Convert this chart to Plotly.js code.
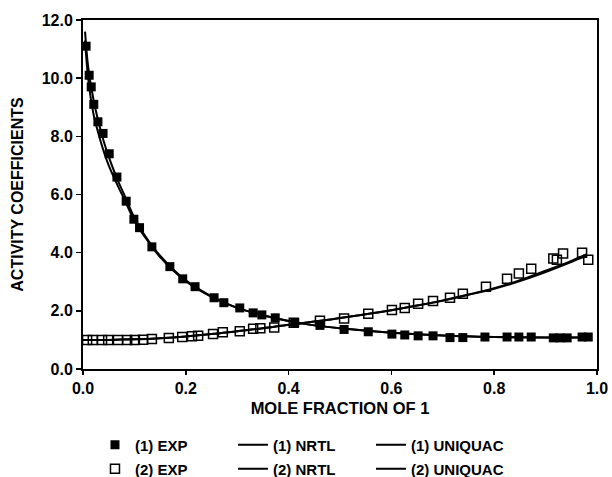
<!DOCTYPE html>
<html>
<head>
<meta charset="utf-8">
<script src="https://cdn.plot.ly/plotly-3.0.1.min.js"></script>
<style>html,body{margin:0;padding:0;background:#fff;}#chart{width:612px;height:477px;}</style>
</head>
<body>
<div id="chart"></div>
<script>
// Experimental data, component 1 (filled squares)
var exp1X = [0.006, 0.012, 0.016, 0.021, 0.029, 0.039, 0.051, 0.066, 0.084, 0.099, 0.110, 0.134, 0.169, 0.194, 0.218, 0.255, 0.274, 0.305, 0.331, 0.348, 0.374, 0.412, 0.461, 0.508, 0.555, 0.601, 0.626, 0.652, 0.681, 0.714, 0.739, 0.782, 0.825, 0.848, 0.872, 0.915, 0.928, 0.942, 0.971, 0.983];
var exp1Y = [11.1, 10.1, 9.7, 9.1, 8.5, 8.1, 7.4, 6.6, 5.77, 5.15, 4.86, 4.2, 3.52, 3.1, 2.83, 2.45, 2.28, 2.1, 1.93, 1.86, 1.76, 1.6, 1.5, 1.36, 1.28, 1.2, 1.17, 1.14, 1.14, 1.08, 1.08, 1.1, 1.1, 1.1, 1.1, 1.07, 1.07, 1.07, 1.1, 1.1];

// Experimental data, component 2 (open squares)
var exp2X = [0.008, 0.019, 0.037, 0.049, 0.068, 0.086, 0.101, 0.117, 0.134, 0.167, 0.193, 0.212, 0.224, 0.253, 0.272, 0.305, 0.331, 0.345, 0.372, 0.41, 0.461, 0.508, 0.555, 0.601, 0.626, 0.652, 0.681, 0.714, 0.739, 0.784, 0.825, 0.848, 0.872, 0.915, 0.922, 0.934, 0.971, 0.983];
var exp2Y = [1.0, 1.0, 1.0, 1.0, 1.0, 1.0, 1.0, 1.01, 1.03, 1.07, 1.1, 1.13, 1.14, 1.2, 1.26, 1.3, 1.38, 1.4, 1.43, 1.59, 1.66, 1.74, 1.9, 2.03, 2.1, 2.24, 2.34, 2.45, 2.59, 2.83, 3.1, 3.28, 3.45, 3.8, 3.76, 3.97, 4.0, 3.76];

// Model curves, component 1
var fit1X = [0.004, 0.01, 0.02, 0.03, 0.04, 0.05, 0.065, 0.08, 0.1, 0.12, 0.15, 0.2, 0.25, 0.3, 0.35, 0.4, 0.45, 0.5, 0.6, 0.7, 0.8, 0.9, 0.98];
var nrtl1Y = [11.6, 10.4, 9.3, 8.5, 7.85, 7.3, 6.6, 6.0, 5.2, 4.6, 3.9, 3.05, 2.5, 2.1, 1.85, 1.65, 1.5, 1.4, 1.25, 1.15, 1.1, 1.08, 1.08];
var uniq1Y = [11.3, 10.0, 8.8, 8.1, 7.5, 7.0, 6.4, 5.85, 5.1, 4.55, 3.85, 3.02, 2.48, 2.1, 1.85, 1.65, 1.5, 1.4, 1.25, 1.15, 1.1, 1.08, 1.08];

// Model curves, component 2
var fit2X = [0.0, 0.05, 0.1, 0.15, 0.2, 0.25, 0.3, 0.35, 0.4, 0.45, 0.5, 0.55, 0.6, 0.65, 0.7, 0.75, 0.8, 0.85, 0.9, 0.95, 0.98];
var nrtl2Y = [1.0, 1.0, 1.02, 1.06, 1.12, 1.2, 1.3, 1.4, 1.52, 1.63, 1.75, 1.88, 2.02, 2.18, 2.36, 2.56, 2.78, 3.05, 3.38, 3.72, 3.95];
var uniq2Y = [1.0, 1.0, 1.02, 1.06, 1.12, 1.2, 1.3, 1.4, 1.52, 1.63, 1.75, 1.88, 2.02, 2.18, 2.35, 2.55, 2.76, 3.02, 3.33, 3.68, 3.9];

var names = ['(1) EXP', '(1) NRTL', '(1) UNIQUAC', '(2) EXP', '(2) NRTL', '(2) UNIQUAC'];

var lineStyle = {color: '#000', width: 2, shape: 'spline'};
var traces = [
  {x: exp1X, y: exp1Y, name: names[0], type: 'scatter', mode: 'markers', legend: 'legend',
   marker: {symbol: 'square', size: 9, color: '#000'}},
  {x: fit1X, y: nrtl1Y, name: names[1], type: 'scatter', mode: 'lines', legend: 'legend', line: lineStyle},
  {x: fit1X, y: uniq1Y, name: names[2], type: 'scatter', mode: 'lines', legend: 'legend', line: lineStyle},
  {x: exp2X, y: exp2Y, name: names[3], type: 'scatter', mode: 'markers', legend: 'legend2',
   marker: {symbol: 'square-open', size: 9, color: '#000', line: {width: 1.5, color: '#000'}}},
  {x: fit2X, y: nrtl2Y, name: names[4], type: 'scatter', mode: 'lines', legend: 'legend2', line: lineStyle},
  {x: fit2X, y: uniq2Y, name: names[5], type: 'scatter', mode: 'lines', legend: 'legend2', line: lineStyle}
];

var fontFam = '"Liberation Sans", Arial, Helvetica, sans-serif';
var legendCommon = {
  orientation: 'h', xref: 'paper', x: 0.0233, xanchor: 'left',
  yref: 'container', yanchor: 'middle',
  entrywidth: 93, entrywidthmode: 'pixels',
  font: {family: fontFam, size: 15, color: '#000', weight: 'bold'},
  bgcolor: 'rgba(0,0,0,0)', borderwidth: 0, traceorder: 'normal'
};

var layout = {
  width: 612, height: 477,
  margin: {l: 83, r: 15, t: 20, b: 108},
  paper_bgcolor: '#fff', plot_bgcolor: '#fff',
  font: {family: fontFam, size: 16, color: '#000', weight: 'bold'},
  showlegend: true,
  legend: Object.assign({}, legendCommon, {y: 0.067}),
  legend2: Object.assign({}, legendCommon, {y: 0.017}),
  xaxis: {
    range: [0, 1.0], dtick: 0.2, tick0: 0, tickformat: '.1f',
    showgrid: false, zeroline: false,
    showline: true, linecolor: '#000', linewidth: 2, mirror: true,
    ticks: 'outside', ticklen: 4, tickwidth: 1.5, tickcolor: '#000',
    tickfont: {family: fontFam, size: 16, color: '#000', weight: 'bold'},
    title: {text: 'MOLE FRACTION OF 1', standoff: 6,
            font: {family: fontFam, size: 16.5, color: '#000', weight: 'bold'}}
  },
  yaxis: {
    range: [0, 12.0], dtick: 2, tick0: 0, tickformat: '.1f',
    showgrid: false, zeroline: false,
    showline: true, linecolor: '#000', linewidth: 2, mirror: true,
    ticks: 'outside', ticklen: 5, tickwidth: 1.5, tickcolor: '#000',
    tickfont: {family: fontFam, size: 16, color: '#000', weight: 'bold'},
    title: {text: 'ACTIVITY COEFFICIENTS', standoff: 14,
            font: {family: fontFam, size: 16, color: '#000', weight: 'bold'}}
  }
};

Plotly.newPlot('chart', traces, layout, {displayModeBar: false, staticPlot: true});
</script>
</body>
</html>
